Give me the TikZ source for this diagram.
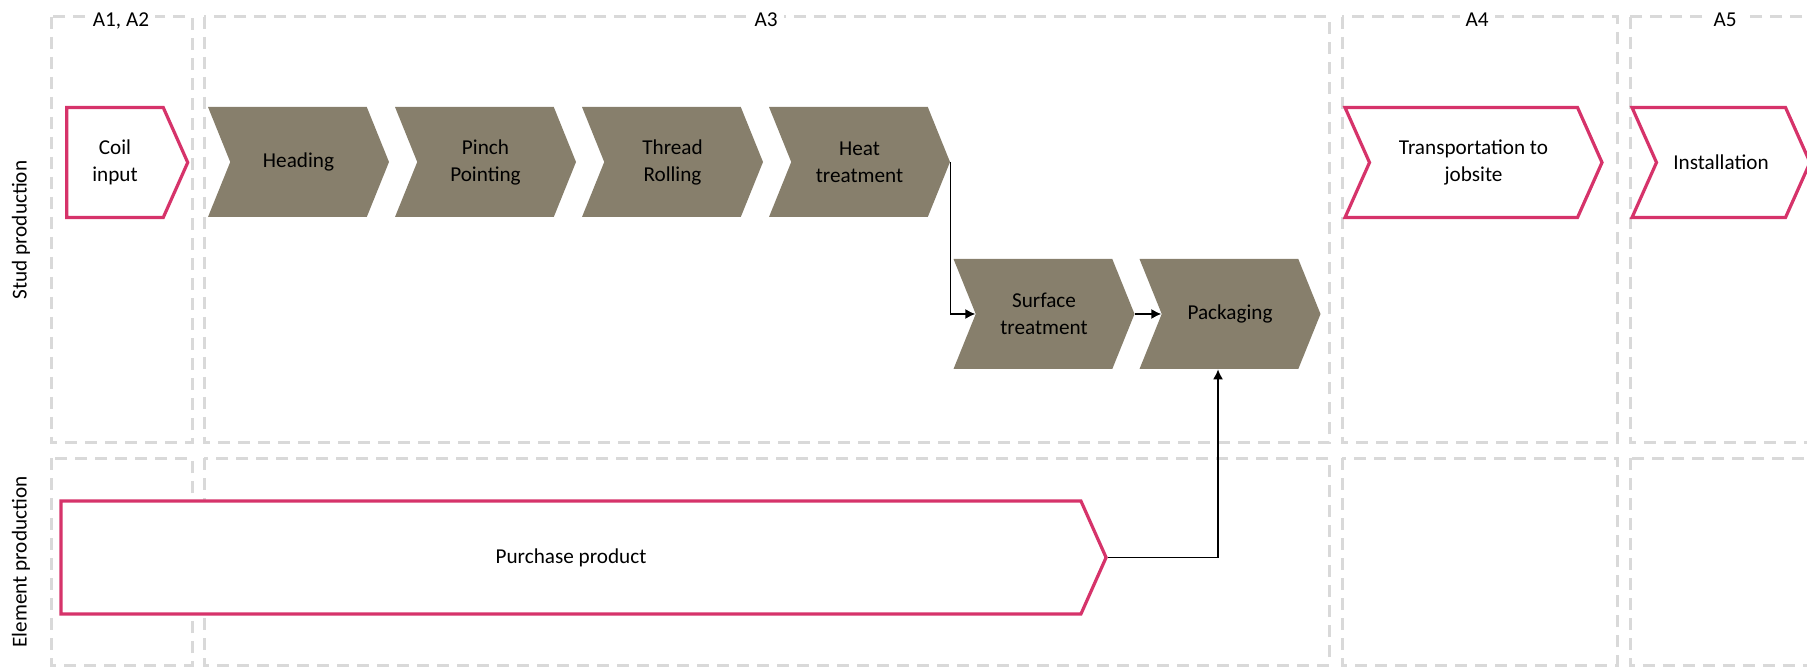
\documentclass[tikz,border=0pt]{standalone}
\usepackage{fontspec}
\setmainfont{Carlito}
\usetikzlibrary{shapes.symbols}
\usetikzlibrary{arrows.meta}

\definecolor{stepgray}{HTML}{877F6C}
\definecolor{steppink}{HTML}{D6336A}
\definecolor{lanegray}{HTML}{D9D9D9}

\begin{document}
\begin{tikzpicture}[x=0.5pt, y=-0.5pt, font=\fontsize{10.6}{13.5}\selectfont]
            \tikzstyle{lane box} = [draw=lanegray, line width=1.5pt, dash pattern=on 6pt off 4pt]
            \tikzstyle{own step} = [signal, signal to=east, signal from=west, signal pointer angle=136, fill=stepgray, draw=none, minimum width=90.5pt, minimum height=55pt, inner sep=0pt, align=center]
            \tikzstyle{bought step} = [signal, signal to=east, signal pointer angle=132, fill=white, draw=steppink, line width=1.6pt, minimum height=55pt, inner sep=0pt, align=center]
            \tikzstyle{flow} = [line width=0.7pt, -{Latex[length=5pt, width=5pt]}]
            \tikzstyle{column title} = [fill=white, inner xsep=3pt, inner ysep=1pt, anchor=base]
            
            \useasboundingbox (0,0) rectangle (1807,667);
            
            \draw[lane box] (51,17) rectangle (192,443);
            \draw[lane box] (204,17) rectangle (1329,443);
            \draw[lane box] (1342,17) rectangle (1617,443);
            \draw[lane box] (1630,17) rectangle (1820,443);
            \draw[lane box] (51,458) rectangle (192,665);
            \draw[lane box] (204,458) rectangle (1329,665);
            \draw[lane box] (1342,458) rectangle (1617,665);
            \draw[lane box] (1630,458) rectangle (1820,665);
            
            \node[column title] (t12) at (121,27) {A1, A2};
            \node[column title] (t3) at (766,27) {A3};
            \node[column title] (t4) at (1477,27) {A4};
            \node[column title] (t5) at (1725,27) {A5};
            
            \node[rotate=90] (stud) at (21,230) {Stud production};
            \node[rotate=90] (element) at (21,562) {Element production};
            
            \node[bought step, minimum width=60.5pt] (coil) at (115,162.5) {Coil\\input};
            \node[own step] (heading) at (298.5,162) {Heading};
            \node[own step] (pinch) at (485.5,162) {Pinch\\Pointing};
            \node[own step] (thread) at (672.5,162) {Thread\\Rolling};
            \node[own step] (heat) at (859.5,162) {Heat\\treatment};
            \node[own step] (surface) at (1044,314) {Surface\\treatment};
            \node[own step] (packaging) at (1230,314) {Packaging};
            \node[bought step, signal from=west, minimum width=128.5pt] (transport) at (1473.5,162.5) {Transportation to\\jobsite};
            \node[bought step, signal from=west, minimum width=89pt] (install) at (1721,162.5) {Installation};
            \node[bought step, minimum width=522.5pt, minimum height=56.5pt] (purchase) at (571,557.5) {Purchase product};
            
            \draw[flow] (heat.east) |- (surface.west);
            \draw[flow] (surface.east) -- (packaging.west);
            \draw[flow] (purchase.east) -| ([xshift=-6pt]packaging.south);
            
        \end{tikzpicture}
\end{document}
